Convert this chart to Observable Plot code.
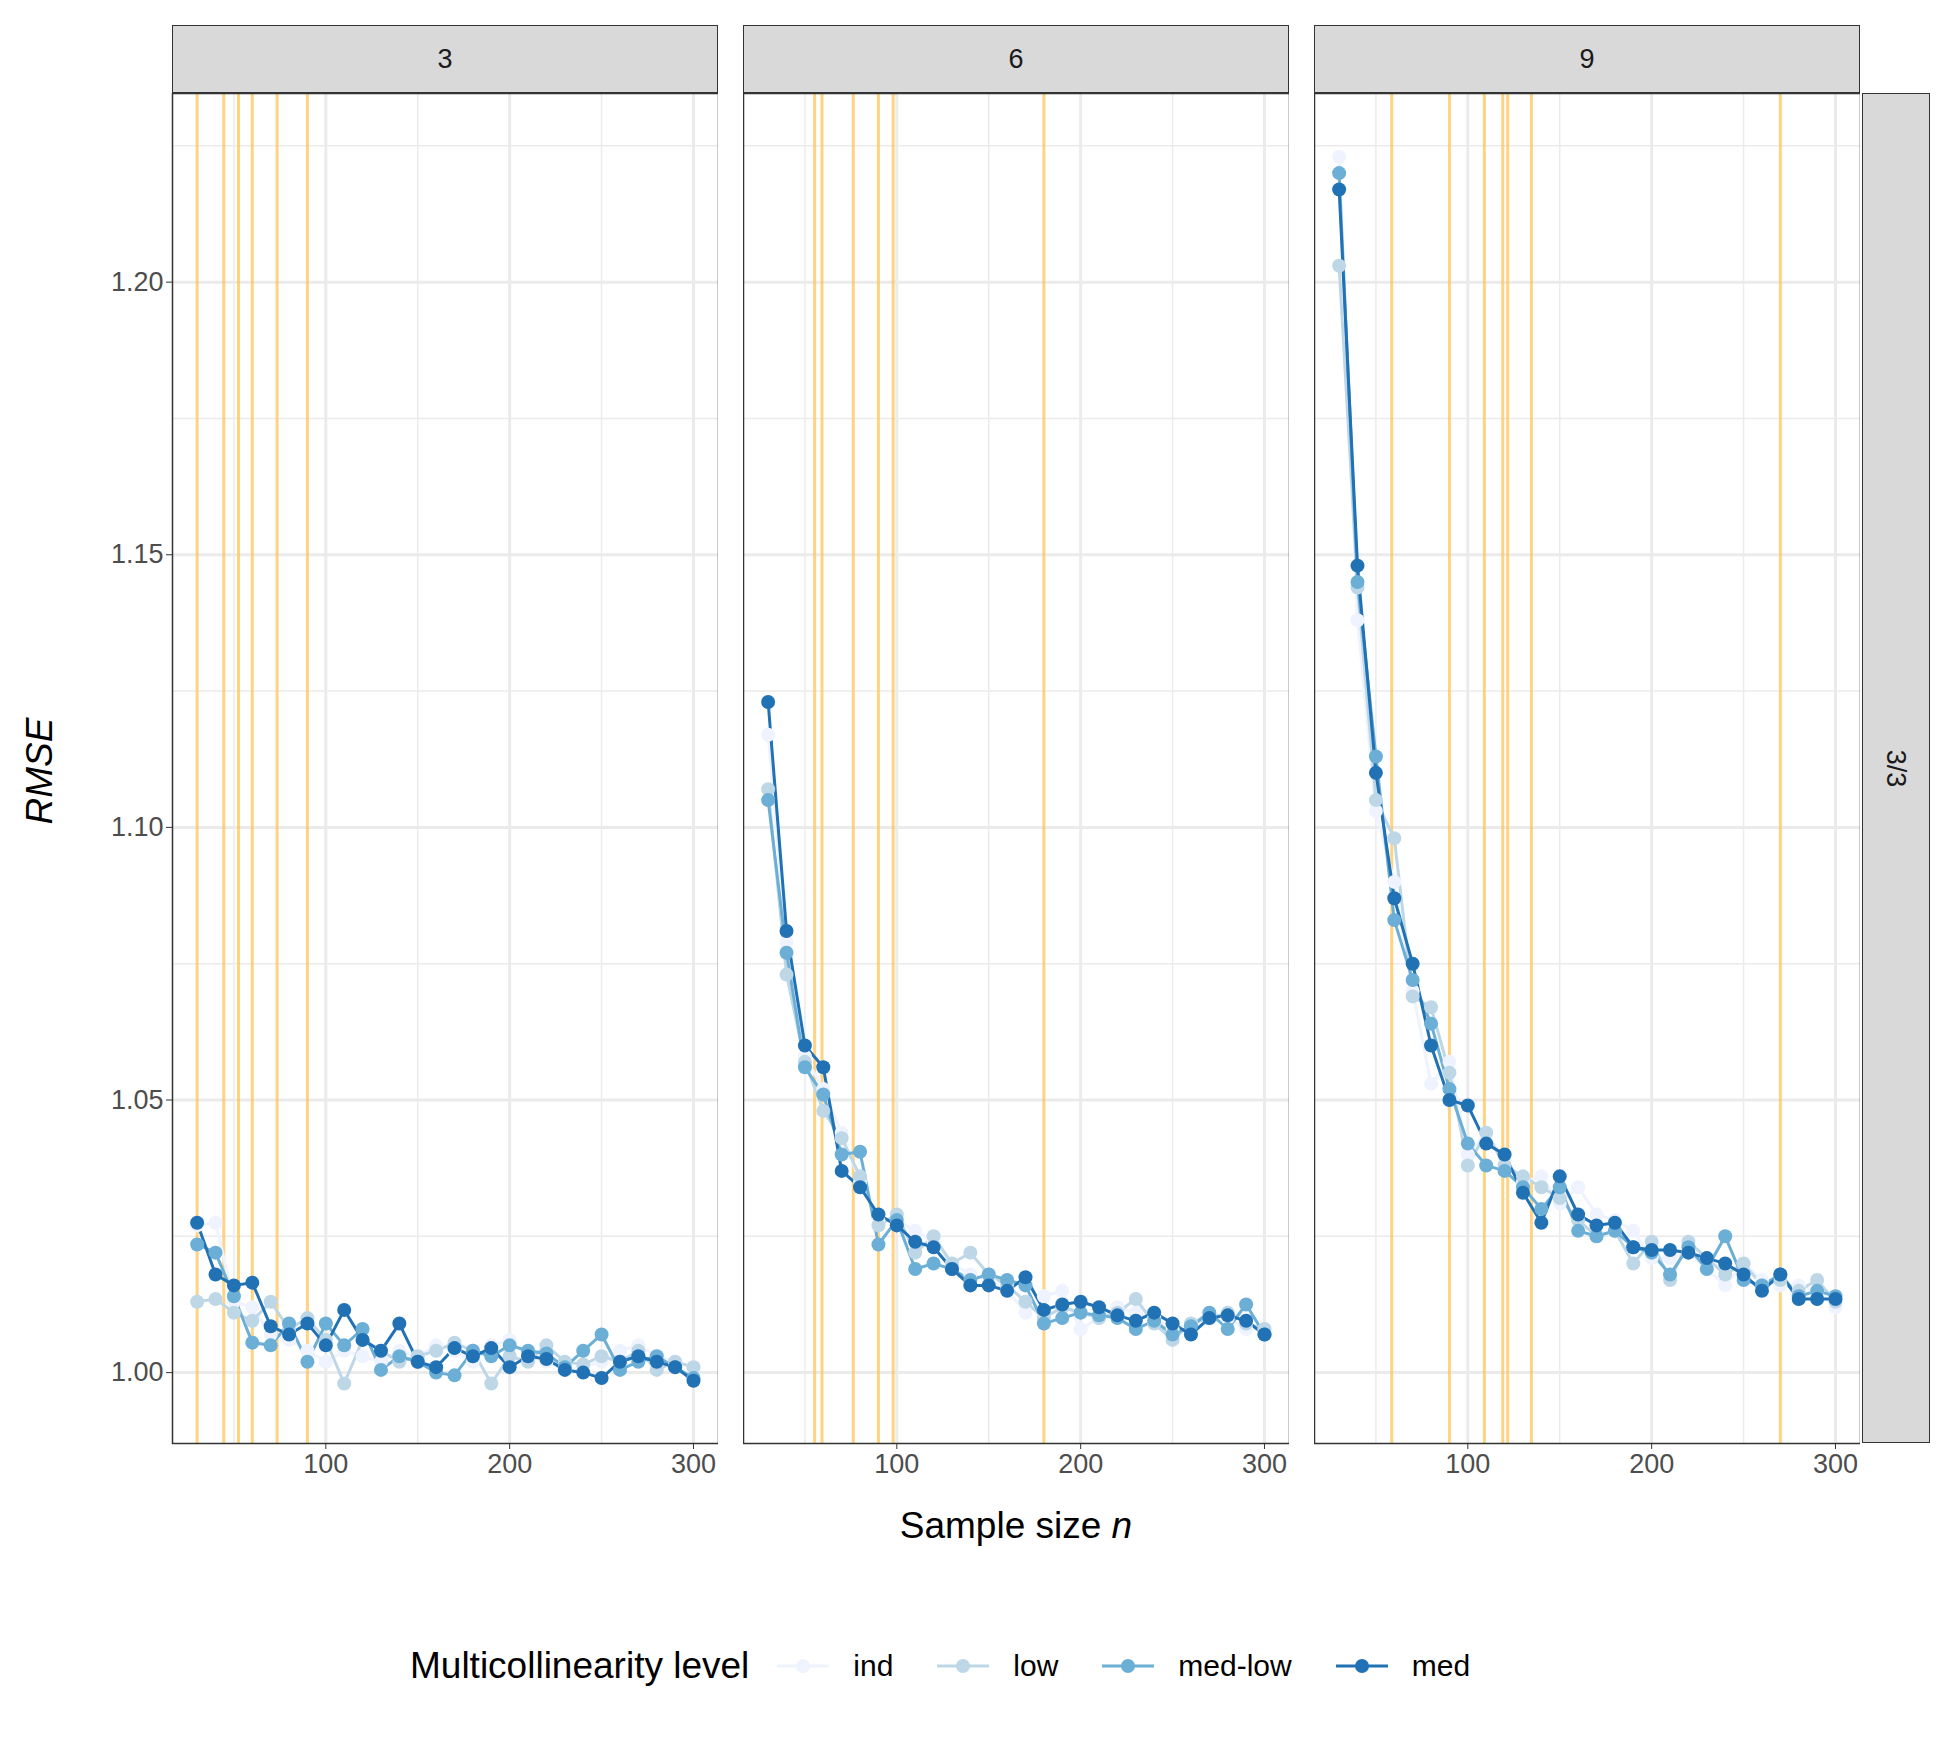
<!DOCTYPE html>
<html><head><meta charset="utf-8">
<script src="https://cdn.jsdelivr.net/npm/d3@7"></script>
<script src="https://cdn.jsdelivr.net/npm/@observablehq/plot@0.6"></script>
<style>
body{margin:0;background:#fff;font-family:"Liberation Sans",Arial,sans-serif}
#c{position:relative;width:1945px;height:1741px}
.strip{position:absolute;background:#d9d9d9;border:1.5px solid #333;box-sizing:border-box;display:flex;align-items:center;justify-content:center;font-size:27px;color:#1a1a1a}
.abs{position:absolute}
</style></head><body><div id="c"></div>
<script>
const ns = d3.range(30, 301, 10);
const panels = ["3","6","9"];
const levels = ["ind","low","med-low","med"];
const colors = ["#eff3ff","#bdd7e7","#6baed6","#2171b5"];
const vlines = {
  "3":[30,44.5,52.5,60,73.5,90],
  "6":[55.3,59.3,76.3,90,98,180],
  "9":[58.6,90,109,119,121.7,134.6,270]
};
const rmse = {
 "3":{
  "med":[1.0275,1.018,1.016,1.0165,1.0085,1.007,1.009,1.005,1.0115,1.006,1.004,1.009,1.002,1.001,1.0045,1.003,1.0045,1.001,1.003,1.0025,1.0005,1.0,0.999,1.002,1.003,1.002,1.001,0.9985],
  "med-low":[1.0235,1.022,1.014,1.0055,1.005,1.009,1.002,1.009,1.005,1.008,1.0005,1.003,1.002,1.0,0.9995,1.004,1.003,1.005,1.004,1.0035,1.001,1.004,1.007,1.0005,1.002,1.003,1.001,0.999],
  "low":[1.013,1.0135,1.011,1.0095,1.013,1.008,1.010,1.006,0.998,1.006,1.004,1.002,1.003,1.004,1.0055,1.004,0.998,1.003,1.002,1.005,1.002,1.0015,1.003,1.002,1.004,1.0005,1.002,1.001],
  "ind":[1.027,1.0275,1.013,1.012,1.007,1.006,1.004,1.002,1.004,1.003,1.002,1.004,1.003,1.005,1.004,1.002,1.005,1.006,1.003,1.002,1.0005,1.001,1.002,1.004,1.005,1.003,1.002,1.001]},
 "6":{
  "med":[1.123,1.081,1.060,1.056,1.037,1.034,1.029,1.027,1.024,1.023,1.019,1.016,1.016,1.015,1.0175,1.0115,1.0125,1.013,1.012,1.0105,1.0095,1.011,1.009,1.007,1.010,1.0105,1.0095,1.007],
  "med-low":[1.105,1.077,1.056,1.051,1.040,1.0405,1.0235,1.028,1.019,1.020,1.019,1.017,1.018,1.017,1.016,1.009,1.010,1.011,1.0105,1.010,1.008,1.0095,1.007,1.0085,1.011,1.008,1.0125,1.007],
  "low":[1.107,1.073,1.057,1.048,1.043,1.036,1.027,1.029,1.022,1.025,1.020,1.022,1.018,1.016,1.013,1.010,1.012,1.011,1.010,1.011,1.0135,1.009,1.006,1.009,1.010,1.011,1.009,1.008],
  "ind":[1.117,1.079,1.058,1.052,1.044,1.035,1.028,1.028,1.026,1.024,1.020,1.018,1.017,1.015,1.011,1.014,1.015,1.008,1.010,1.012,1.011,1.010,1.008,1.009,1.011,1.010,1.008,1.008]},
 "9":{
  "med":[1.217,1.148,1.110,1.087,1.075,1.060,1.050,1.049,1.042,1.040,1.033,1.0275,1.036,1.029,1.027,1.0275,1.023,1.0225,1.0225,1.022,1.021,1.020,1.018,1.015,1.018,1.0135,1.0135,1.0135],
  "med-low":[1.220,1.145,1.113,1.083,1.072,1.064,1.052,1.042,1.038,1.037,1.034,1.030,1.034,1.026,1.025,1.026,1.023,1.022,1.018,1.023,1.019,1.025,1.017,1.016,1.018,1.014,1.015,1.014],
  "low":[1.203,1.144,1.105,1.098,1.069,1.067,1.055,1.038,1.044,1.038,1.036,1.034,1.032,1.028,1.025,1.026,1.020,1.024,1.017,1.024,1.021,1.018,1.020,1.016,1.017,1.015,1.017,1.013],
  "ind":[1.223,1.138,1.103,1.090,1.070,1.053,1.057,1.040,1.044,1.039,1.035,1.036,1.031,1.034,1.029,1.028,1.026,1.021,1.021,1.022,1.019,1.016,1.020,1.017,1.016,1.016,1.015,1.012]}
};
const xTicks=[100,200,300], xMinor=[50,150,250];
const yTicks=[1.00,1.05,1.10,1.15,1.20], yMinor=[1.025,1.075,1.125,1.175,1.225];

const c = document.getElementById("c");
const PW=546, PH=1350, TOP=93;
const lefts=[172,743,1314];
panels.forEach((p,i)=>{
  const rows=[];
  levels.forEach(l=>rmse[p][l].forEach((v,j)=>rows.push({n:ns[j],v,l})));
  const ml = i===0?172:0;
  const chart = Plot.plot({
    width: PW+ml, height: PH+60, marginLeft: ml, marginRight:0, marginTop:0, marginBottom:60,
    style:{fontFamily:"Liberation Sans, Arial, sans-serif", fontSize:"25px", color:"#4d4d4d", background:"transparent"},
    x:{domain:[16.6,313.6], axis:null},
    y:{domain:[0.987,1.2346], axis:null},
    color:{domain:levels, range:colors},
    marks:[
      Plot.ruleX(xMinor,{stroke:"#ebebeb",strokeWidth:1.5}),
      Plot.ruleY(yMinor,{stroke:"#ebebeb",strokeWidth:1.5}),
      Plot.ruleX(xTicks,{stroke:"#ebebeb",strokeWidth:3}),
      Plot.ruleY(yTicks,{stroke:"#ebebeb",strokeWidth:3}),
      Plot.ruleX(vlines[p],{stroke:"#ffc04d",strokeOpacity:0.7,strokeWidth:3}),
      Plot.line(rows,{x:"n",y:"v",z:"l",stroke:"l",strokeWidth:3}),
      Plot.dot(rows,{x:"n",y:"v",fill:"l",r:7}),
      Plot.frame({stroke:"#333",strokeWidth:1.5}),
      Plot.axisX({ticks:xTicks,tickSize:6,tickPadding:4,stroke:"#333",fontSize:27,label:null}),
      ...(i===0?[Plot.axisY({ticks:yTicks,tickFormat:d3.format(".2f"),tickSize:6,stroke:"#333",fontSize:27,label:null})]:[])
    ]
  });
  chart.classList.add("abs");
  chart.style.left=(lefts[i]-ml)+"px"; chart.style.top=TOP+"px";
  c.appendChild(chart);
  const s=document.createElement("div"); s.className="strip";
  Object.assign(s.style,{left:lefts[i]+"px",top:"25px",width:PW+"px",height:"68px"});
  s.textContent=p; c.appendChild(s);
});
const rs=document.createElement("div"); rs.className="strip";
Object.assign(rs.style,{left:"1862px",top:TOP+"px",width:"68px",height:PH+"px"});
rs.innerHTML='<span style="transform:rotate(90deg);display:inline-block">3/3</span>'; c.appendChild(rs);
function txt(html,st){const d=document.createElement("div");d.className="abs";d.innerHTML=html;Object.assign(d.style,st);c.appendChild(d);}
txt('Sample size <i>n</i>',{left:"743px",width:"546px",textAlign:"center",top:"1505px",fontSize:"37px",color:"#000"});
txt('<i>RMSE</i>',{left:"-60px",top:"750px",width:"200px",textAlign:"center",fontSize:"37px",transform:"rotate(-90deg)",color:"#000"});
const lg=document.createElement("div");lg.className="abs";
Object.assign(lg.style,{left:"410px",top:"1645px",display:"flex",alignItems:"center",fontSize:"37px",color:"#000"});
lg.innerHTML='<span style="margin-right:26px">Multicollinearity level</span>'+levels.map((l,k)=>
 `<svg width="56" height="40"><line x1="2" x2="54" y1="20" y2="20" stroke="${colors[k]}" stroke-width="3"/><circle cx="28" cy="20" r="7" fill="${colors[k]}"/></svg><span style="font-size:30px;margin:0 42px 0 22px">${l}</span>`).join("");
c.appendChild(lg);
</script></body></html>
